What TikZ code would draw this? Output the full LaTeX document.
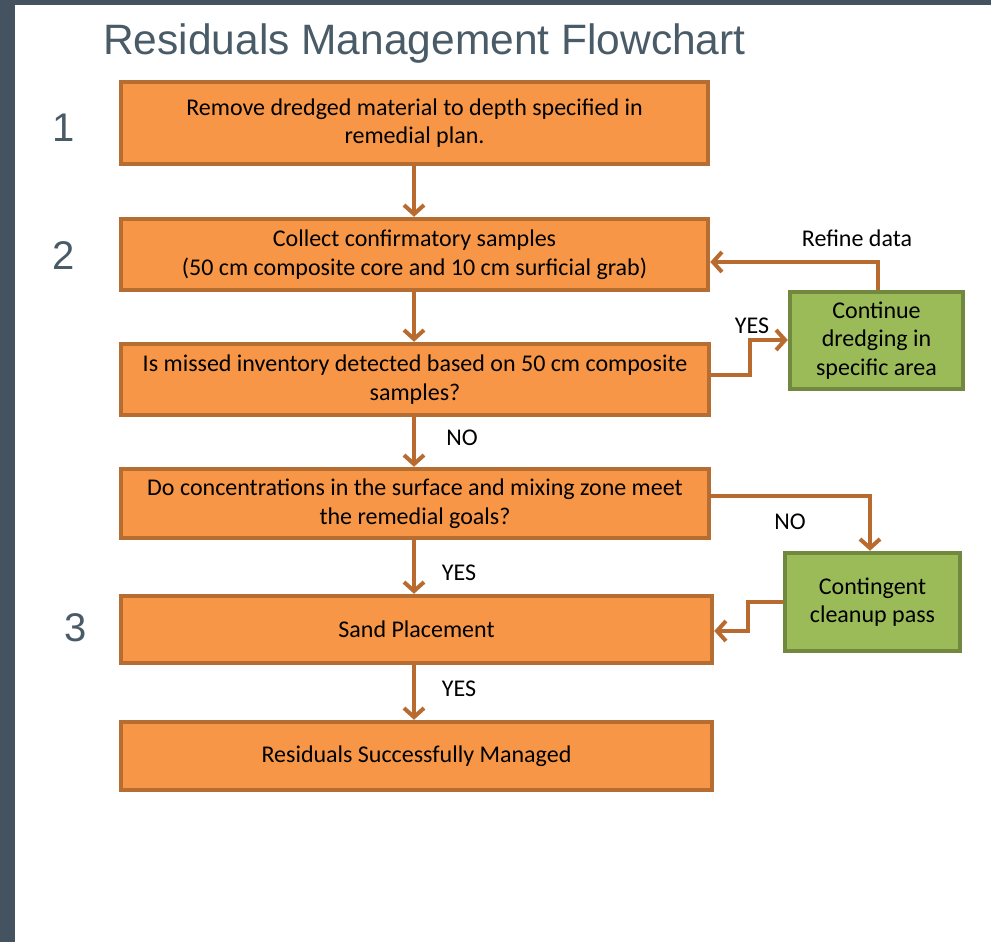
\documentclass[tikz,border=0pt]{standalone}
\usepackage{fontspec}
\setmainfont{Carlito}
\newfontfamily\titlefont{Liberation Sans}
\usetikzlibrary{arrows.meta}
\definecolor{slate}{HTML}{44535F}
\definecolor{titlecol}{HTML}{4A5B68}
\definecolor{orfill}{HTML}{F79646}
\definecolor{ordraw}{HTML}{B66D31}
\definecolor{grfill}{HTML}{9BBB59}
\definecolor{grdraw}{HTML}{71893F}
\definecolor{arrcol}{HTML}{B96A2F}
\tikzset{
  obox/.style={draw=ordraw, fill=orfill, line width=4.5pt, align=center, inner sep=0pt,
    font=\fontsize{24}{28.5}\selectfont},
  gbox/.style={draw=grdraw, fill=grfill, line width=4.5pt, align=center, inner sep=0pt,
    font=\fontsize{24}{28.5}\selectfont},
  arr/.style={draw=arrcol, line width=4pt, -{Straight Barb[length=9pt,width=20pt]}},
  lbl/.style={font=\fontsize{24}{28}\selectfont, inner sep=0pt},
  num/.style={font=\titlefont\fontsize{40}{40}\selectfont, text=titlecol, inner sep=0pt}
}
\begin{document}
\begin{tikzpicture}[x=1pt,y=-1pt]
\useasboundingbox (0,0) rectangle (991,942);
\fill[slate] (0,0) rectangle (991,5);
\fill[slate] (0,0) rectangle (15,942);

\node[anchor=base west, inner sep=0pt, font=\titlefont\fontsize{42.5}{46}\selectfont, text=titlecol] (title) at (103,55) {Residuals Management Flowchart};

\node[num] (n1) at (64,128) {1};
\node[num] (n2) at (64,256) {2};
\node[num] (n3) at (76,628) {3};

\node[obox, minimum width=587pt, minimum height=82pt] (b1) at (414.5,123) {Remove dredged material to depth specified in\\remedial plan.};
\node[obox, minimum width=587pt, minimum height=71pt] (b2) at (414.5,254.5) {Collect confirmatory samples\\(50 cm composite core and 10 cm surficial grab)};
\node[obox, minimum width=588pt, minimum height=71pt] (b3) at (415,379.5) {Is missed inventory detected based on 50 cm composite\\samples?};
\node[obox, minimum width=588pt, minimum height=69pt] (b4) at (415,503.5) {Do concentrations in the surface and mixing zone meet\\the remedial goals?};
\node[obox, minimum width=591pt, minimum height=67pt] (b5) at (416.5,629.5) {Sand Placement};
\node[obox, minimum width=591pt, minimum height=68pt] (b6) at (416.5,756) {Residuals Successfully Managed};

\node[gbox, minimum width=173pt, minimum height=97pt] (g1) at (876.5,340.5) {Continue\\dredging in\\specific area};
\node[gbox, minimum width=175pt, minimum height=98pt] (g2) at (872.5,602) {Contingent\\cleanup pass};

\coordinate (vx) at (414,0);
\draw[arr] (b1.south -| vx) -- (b2.north -| vx);
\draw[arr] (b2.south -| vx) -- (b3.north -| vx);
\draw[arr] (b3.south -| vx) -- (b4.north -| vx);
\draw[arr] (b4.south -| vx) -- (b5.north -| vx);
\draw[arr] (b5.south -| vx) -- (b6.north -| vx);

\coordinate (rf) at (878,262);
\draw[arr] (g1.north -| rf) -- (rf) -- (b2.east |- rf);

\coordinate (y1) at (750,375);
\coordinate (y2) at (750,340);
\draw[arr] (b3.east |- y1) -- (y1) -- (y2) -- (g1.west |- y2);

\coordinate (nn) at (870,496);
\draw[arr] (b4.east |- nn) -- (nn) -- (g2.north -| nn);

\coordinate (c1) at (748,602);
\coordinate (c2) at (748,631);
\draw[arr] (g2.west |- c1) -- (c1) -- (c2) -- (b5.east |- c2);

\node[lbl] (lrefine) at (857,238) {Refine data};
\node[lbl] (lyes1) at (752,326) {YES};
\node[lbl] (lno1) at (462,438) {NO};
\node[lbl] (lno2) at (790,522) {NO};
\node[lbl] (lyes2) at (459,573) {YES};
\node[lbl] (lyes3) at (459,689) {YES};
\end{tikzpicture}
\end{document}
